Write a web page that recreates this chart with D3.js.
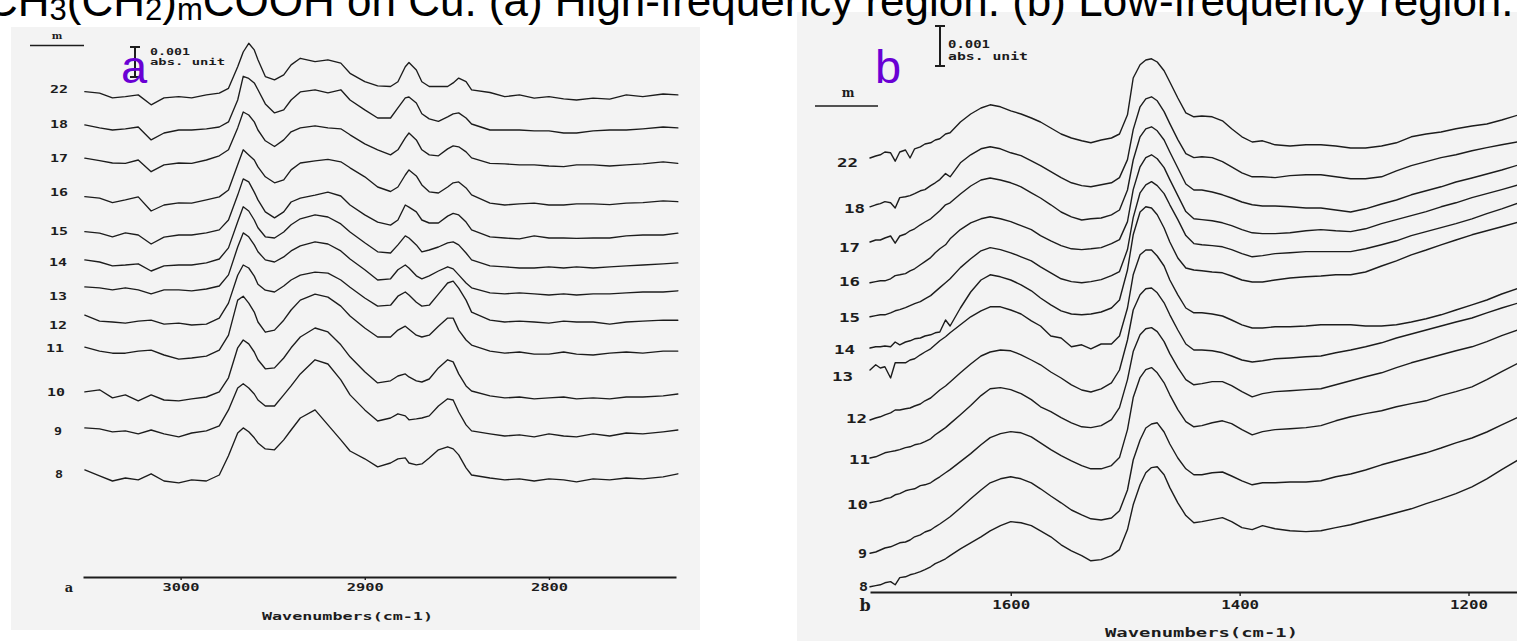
<!DOCTYPE html>
<html>
<head>
<meta charset="utf-8">
<script src="https://cdn.jsdelivr.net/npm/d3@7"></script>
<style>
  html, body { margin: 0; padding: 0; background: #ffffff; }
  svg { display: block; }
</style>
</head>
<body>
<svg id="chart" width="1517" height="641"></svg>
<script>
// ---------------- DATA ----------------
// chain length m of each spectrum, top to bottom
const seriesLabels = ["22", "18", "17", "16", "15", "14", "13", "12", "11", "10", "9", "8"];

// Title pieces: [text, isSubscript]
const titleParts = [["CH", false], ["3", true], ["(CH", false], ["2", true], [")", false], ["m", true],
  ["COOH on Cu. (a) High-frequency region. (b) Low-frequency region.", false]];

// ---- panel (a): high-frequency region ----
const wavenumbersA = [3052, 3044, 3037, 3030, 3023, 3016, 3009, 3001, 2994, 2986, 2979, 2974, 2969, 2966, 2963, 2960, 2958, 2954, 2949, 2944,
  2940, 2935, 2927, 2920, 2913, 2908, 2900, 2893, 2886, 2882, 2878, 2876, 2872, 2869, 2865, 2860, 2855, 2852, 2849, 2845,
  2842, 2832, 2824, 2816, 2808, 2800, 2792, 2785, 2776, 2767, 2758, 2749, 2738, 2730];
// stacking offsets (units of 1e-4 absorbance)
const offsetsA = [161.7, 150.7, 139.7, 126.7, 115, 105.7, 96.7, 87.3, 76.3, 61.7, 49.7, 35.7];
// absorbance relative to each trace's own baseline (units of 1e-4)
const a22 = [0.1,-0.4,-2,-1.6,-1,-4.3,-2,-1.6,-2,-1,-0.4,1.2,8.4,13.3,16.2,14,10.7,5.1,4,5.7,9,11.2,10.1,10.7,9.6,6.2,3.4,2,1.8,3.4,8.4,9.8,7.3,3.4,1.8,1.8,1.8,3,4.6,3.4,0.7,-0.2,-1.6,-1,-2.1,-1.6,-2.3,-2.7,-2.1,-2.4,-1,-1.6,-0.7,-1];
const a18 = [0,-1,-1.7,-1.3,-0.7,-5,-2.7,-1.7,-1.7,-1.3,-0.7,1,8.3,16.2,15.5,14,11.7,7,4,5,8.3,11,11.7,10.7,11.7,8.3,5,2.3,2.3,5.7,9,9.3,7.3,3.7,2,1.2,2.7,3.7,4,2.3,0.3,-1.7,-1.7,-1.7,-2,-2,-2.7,-2.7,-2,-1.7,-1.7,-1.3,-0.7,-1];
const a17 = [-0.1,-0.9,-1.7,-1.8,-0.7,-4.6,-2.3,-1.7,-1.8,-0.7,0.7,2.7,10,15.3,14.3,12,9.3,5.7,3.8,6,8.7,10,10.7,10,9.7,7.7,4.7,2.7,1,2.7,6.7,8.3,6,2.7,1,0.7,3,4,3.7,2,0,-1.8,-2,-2.3,-2.3,-2.7,-2.9,-2.3,-2.3,-2.7,-2.3,-2,-1.3,-1.8];
const a16 = [0.1,-0.4,-1.9,-1,0,-4.7,-2.7,-2,-2.1,-1,0,2.3,10.7,15.7,14,12.3,10,6.7,4.7,5.7,9,11.3,12,12.5,11.7,9.7,6.7,3.3,1.8,3.3,7.3,9,7,4,1.7,1.3,3.3,4.7,5,3,0.7,-2.1,-2.7,-2.3,-2.1,-2.7,-2.7,-2.3,-2.3,-2.6,-2.1,-1.9,-1.3,-1.6];
const a15 = [0.1,-0.4,-1.6,-0.3,-1,-4,-1.7,-1,-1,-0.3,0.7,4,12.3,17.7,16.7,13.3,10.7,6.7,4.7,6.7,10,11.3,12.3,13.3,12,9,5.7,3.3,2.3,4,9,8.3,6.7,4,3,3,5.3,6.2,5.7,3.3,0.7,-1.6,-2,-2.3,-1.3,-2,-2,-2.1,-2,-2,-1.3,-1,-1,-0.4];
const a14 = [0,-0.7,-2,-1.7,-1.3,-3.7,-2,-1.7,-1.7,-1,0.3,4,12.7,17.7,16.3,13.3,10.7,7.7,7.3,9.3,11.7,13.7,15,14.3,12,9.3,5.7,2.7,2.3,5,8,7.3,5,2.7,3.3,4.3,5.7,6,5,2.3,0,-2,-2.3,-2.7,-2.7,-2.3,-2.7,-2.3,-2.7,-2.3,-2,-1.7,-1.3,-1];
const a13 = [0,-0.3,-1,-0.3,-1,-2.3,-1,-1,-1.3,-0.7,0.3,4,13.3,18,16.7,14,11.7,9,8.3,10,12,13.7,15,14.3,12,9.3,5.7,2.3,2.7,5.7,7.3,6.3,3.7,2.7,3.7,5.3,6.7,6,4,1.3,-0.3,-2,-2.3,-2,-2.3,-2.7,-2.3,-2.7,-2.3,-2.3,-2,-1.7,-1.7,-1.3];
const a12 = [0,-2,-2.3,-2.7,-2,-1.7,-3,-2.7,-3.3,-3,-1,4,13.3,16.7,15.7,13,10.3,8.3,7.7,9.7,11.7,13.3,14.3,14,11.7,9.3,5.7,3,3.3,6.3,7.7,6.7,4.3,3,3.3,7,10.7,11.3,9,5,1,-1.7,-2.3,-2,-2.3,-2.7,-2,-2.3,-2.3,-3,-2.3,-2,-1.7,-1.7];
const a11 = [0.3,-1,-1.7,-1.7,-1,-0.7,-2.3,-3.7,-3.3,-2.7,-0.7,4.3,16,17.3,15,12,8.7,5.3,6,9.3,12.7,16,18,17,14,10.7,6.7,3.7,3.7,6,7.3,6.3,4.3,3.7,4.3,7.3,10,10,6,2.7,1,-1,-1.7,-1.3,-2,-2,-1.3,-2,-2.3,-1.7,-1.3,-1.7,-1,-1];
const a10 = [0,0.7,-2,-1,-3,-1,-2.7,-3,-2.3,-1.7,0,4.7,14.7,17.3,16,13.3,10.7,7.7,8,11.3,14.7,18.3,21.3,20,15.7,11.7,6.7,3,3.7,5.3,6,5,3.7,3.3,4.3,8,10.7,10,6,2,0.3,-1.3,-2,-1.7,-2.3,-2,-1.7,-2.3,-2,-2.3,-1.7,-1.7,-1.3,-0.7];
const a9 = [0,-0.3,-1.3,-1,-2,-0.7,-2,-3,-1.7,-1,0.7,6,13.3,14.7,13.3,11.3,9.3,7.3,7.3,11,14,18,22.7,21.3,16,11,6,2.3,3.3,4.7,4,2.7,3,3.3,4,7.3,9.7,9.3,5.3,1,-1,-2,-2.7,-2.3,-3,-2,-2.7,-3,-2,-2.7,-1.7,-2,-1.3,-0.7];
const a8 = [0,-2,-3.7,-2.7,-3.3,-1.3,-3.7,-4.3,-3.3,-3.7,-1.7,4.7,12.3,14,12.7,10.7,9,7,6.7,10,13.3,17.3,20,15,10,6.3,3.7,1,2.3,3.7,4,2.3,1.7,2,4,6.7,7.7,7,5,0.7,-1.7,-2.7,-3.3,-3,-3.7,-3,-3.3,-4,-3,-3.3,-2.7,-3,-2.3,-1.3];
const ticksA = [3000, 2900, 2800];

// ---- panel (b): low-frequency region ----
const wavenumbersB = [1723, 1718, 1714, 1710, 1705, 1701, 1697, 1692, 1688, 1684, 1679, 1675, 1670, 1666, 1662, 1657, 1653,
  1644, 1635, 1626, 1618, 1609, 1600, 1591, 1582, 1574, 1565, 1556,
  1547, 1538, 1530, 1521, 1512, 1505, 1498, 1493, 1487, 1482, 1477, 1472, 1466, 1461, 1454, 1447, 1440, 1433, 1424, 1415,
  1407, 1398, 1389, 1380, 1369, 1356, 1342, 1329, 1316, 1303, 1290, 1276, 1263, 1250, 1237, 1224, 1211, 1197, 1184, 1171, 1156];
const offsetsB = [108.5, 96.3, 87.5, 77.3, 68.8, 61, 55.5, 43, 33.8, 22.3, 10, 1.3];
const b22 = [0,0.5,0.8,1.5,1.3,-0.8,1.5,2,0,2.3,2.8,3.5,3.8,4.5,4.8,6,6.3,9,11,12.5,13.3,12.8,11.8,11,10,9,7.5,6,5,4.3,3.8,4.5,5,6,10.8,20,23.3,24.5,24.8,24,21.8,19,15,11.3,10.3,10.5,10.3,9.3,7.3,5.3,4,4.3,3.3,3,3.3,3.3,3,2.5,2.5,3,3.8,5.3,6,6.5,7.3,8,8.5,9.5,10.8];
const b18 = [0,0.5,0.8,1.3,1,-0.3,2.3,2.5,2.8,3.3,4,4.3,5.3,6,6.8,8.3,7.5,11,13,14.5,15,14.5,13.5,12.8,11.5,10.3,8.8,7.3,6,5.3,5,5.5,6,7.3,11.8,19.3,25,27,27.5,26.5,23.8,20.8,16.8,13.3,12.3,12.5,12.3,11.3,10,8.5,7.5,7.5,7.3,7.8,8,8,7.5,7,7,7.5,9,10.3,11.3,12.3,13,14,14.8,15.5,16.3];
const b17 = [0,0.5,0.5,1,1.5,-0.3,1.5,2,2.8,3.3,4.3,5,5.8,6.8,7.8,9.3,9.8,12,14,15.5,16,15.5,14.8,13.8,12.3,11,9.3,7.5,6.3,5.5,5.8,6,6.8,8,13,20.5,26.3,28.3,28.8,27.8,25.5,22.5,18.5,14.5,13,13,12.5,11.8,11,10,9.3,9,9,8.8,8.5,8.5,8,7.5,8.3,9.5,10.5,11.8,12.8,13.8,15,16,17,18,19.3];
const b16 = [0,0.3,0.5,0.5,1,1.8,2,2.3,3,3.5,4.5,5.3,6.3,7.5,8.5,9.5,11,13.3,15,16,16.5,16,15.3,14.3,13.3,11.8,10.5,9.3,8.5,8.3,8.5,8.8,9.8,10.8,15.3,23.3,29,31.3,32,31,28.8,25.8,21.8,17.8,16,15.8,15.5,15,14.3,13.3,12.5,12.3,12.3,12.5,13,13.3,13,12.8,13.5,14.8,15.8,16.8,17.8,19,20,21.3,22.3,23.3,24.5];
const b15 = [0,0.3,0.5,0.5,1,1.5,1.8,2.3,2.8,3.3,3.8,4.5,5.3,6.3,7.3,8.5,9.5,12.3,14.5,16.5,17.3,16.8,16,15,14,12.5,11,9.5,8.8,8.5,8.8,9.3,10.3,11.3,16.8,24.8,31,33,33.8,32.8,30.8,28,24.3,20.3,18.3,18,17.8,17.5,16.8,15.8,15,15.3,15.8,16,16.3,16.3,16.3,16.3,17,18,19,20.3,21.3,22.3,23.3,24.5,25.8,27,28.5];
const b14 = [0,0.3,0.3,0.5,0.3,1.5,0.8,1.5,1.8,2.3,2.5,3,3.3,3.8,4,7,5.5,10,14,17,18.3,17.8,17,15.8,14.3,12.5,10.8,9.3,8.5,8.3,8.5,9,10,12,19.5,28.3,34,35.3,35,33.3,30,26.5,22.5,20,19.5,19.3,19,18.8,18,17,16.5,16.5,17,17.5,17.8,18,18.3,18.3,19,20.5,21.8,23.3,24.5,25.8,27,28.3,29.3,30.3,31.5];
const b13 = [0,1.3,0.5,0.8,-2,1.8,1.8,1.8,2.5,2.8,3.8,4.5,5.3,6.3,7.3,8.3,9.3,11.3,13.3,14.8,15.8,15.8,15,14,12.3,11,8.5,8,5.8,6.3,5.3,6.5,6.5,8.5,15.5,23.8,28.8,30,30,28.5,26,22.5,18.8,15.5,14.3,14.3,14,13.5,12.5,11.3,10.5,10.5,10.8,10.8,11,11.3,11.3,11.3,11,11,11.3,12,12.8,13.8,15,16.3,17.5,19,20.5];
const b12 = [0,0.5,0.8,1.3,1.8,2.5,2.5,2.8,3,3.5,4,4.8,5.5,6.5,7.5,8.5,9.5,11.8,14,16,17,17.5,17.3,16.3,15,13.8,12,10.5,8.8,7.5,7,7.8,9.3,12.5,20,27.5,31.3,32.8,33,31.8,29.3,26.3,22.5,19,17.5,17.5,17.3,16.8,16,15,14.5,14.8,15.3,15.5,15.8,16,16.8,17.5,18.3,19.3,20.5,21.5,22.5,23.5,24.5,25.5,26.8,28,29.3];
const b11 = [-0.3,0,0.5,1,1.3,1.5,1.8,2.3,2.5,3,3.3,3.8,4.5,5.5,6.3,7.3,8.3,10.5,12.8,15.3,17,17.3,16.8,15.8,14.3,12.5,11.3,9.8,8.5,7.5,7.3,7.8,9.3,12.3,19.3,26.3,30.5,32,32.3,31.3,28.8,25.8,22.3,19.3,18,18.3,18.8,18.8,17.8,16.3,15,15.8,16.3,16.5,16.8,17,18,19,20,21,22.3,23.5,24.5,25.5,26.5,27.5,28.8,30.3,31.8];
const b10 = [0,0.3,0.5,1,1.3,2,2.3,3,3.3,3.5,4.3,4.5,5,5.8,6.5,7.5,8.3,10.3,12.3,14.5,16.3,17.3,17.8,17.5,16.5,15,13.3,11.8,10.5,9.3,8.5,8.5,9.3,11.3,18.3,26.3,31.3,33.3,33.8,32.5,30,27,23.3,20.3,19,19.3,20,20.5,19.8,18.3,17,17.8,18.3,18.5,18.8,19.3,20.5,21.5,22.3,23,24,24.8,25.5,26.8,27.8,29,30.8,32.8,35];
const b9 = [-0.3,0,0.5,1,1.3,1.8,2.3,2.5,3,3.8,4.3,5,5.5,6.3,7,8,8.8,11,13.3,15.5,17.3,18.3,18.8,18.3,17.3,15.8,14,12.3,10.5,9.3,8.3,8,8.5,10.3,15.5,23,28,31,32,32.3,30,27,23.5,20.8,19.3,19.3,19.8,20,19,17.8,16.8,17.3,17.3,17.5,17.5,17.8,18.8,19.5,20.5,21.8,22.8,23.8,24.8,26,27.3,28.5,30,31.8,33.8];
const b8 = [0,0.3,0.5,1,1.3,0.5,2.3,2.5,3,3.3,3.8,4.3,5,5.8,6.3,7,7.8,9.5,11,12.5,14,15.3,16.3,16,15.3,14,12.5,10.5,9,7.8,6.5,6.8,7.8,9.3,14.3,20.5,25.5,28.5,29.8,30,28,24.8,21,17.8,16,16.3,16.8,17.3,16.3,14.8,14.3,15.3,14.5,14,13.8,14,14.8,15.5,16.5,17.5,18.5,19.5,20.8,22,23.3,25,27,29.3,31.8];
const ticksB = [1600, 1400, 1200];

const scaleBarValue = 10;   // 0.001 abs = 10 units of 1e-4
const axisTitle = "Wavenumbers(cm-1)";

// ---------------- DRAWING ----------------
const svg = d3.select("#chart");
const INK = "#1c1c1c";
const PANEL_BG = "#f3f3f3";
const PURPLE = "#6a00d4";
const MONO = "'DejaVu Sans Mono', 'Liberation Mono', monospace";
const SANS = "'Liberation Sans', Arial, Helvetica, sans-serif";

function drawPanel(p) {
  const g = svg.append("g");
  g.append("rect").attr("x", p.box[0]).attr("y", p.box[1])
    .attr("width", p.box[2]).attr("height", p.box[3]).attr("fill", PANEL_BG);

  const line = d3.line().x(d => p.x(d[0])).y(d => p.y(d[1])).curve(d3.curveLinear);
  p.spectra.forEach((vals, i) => {
    const pts = p.wn.map((w, k) => [w, p.offsets[i] + vals[k]]);
    g.append("path").attr("d", line(pts))
      .attr("fill", "none").attr("stroke", INK).attr("stroke-width", p.lw)
      .attr("stroke-linejoin", "round").attr("stroke-linecap", "round");
    const lab = seriesLabels[i];
    g.append("text")
      .attr("x", p.labelX[i]).attr("y", p.y(p.offsets[i]) + p.labelDy[i])
      .attr("text-anchor", "end").attr("dominant-baseline", "central")
      .attr("textLength", lab.length > 1 ? p.labelW2 : p.labelW1).attr("lengthAdjust", "spacingAndGlyphs")
      .style("font-family", MONO).style("font-weight", "bold").style("font-size", p.labelFont + "px")
      .attr("fill", INK).text(lab);
  });

  // x axis
  const axis = d3.axisBottom(p.x).tickValues(p.ticks).tickSize(p.tickSize)
    .tickSizeOuter(0).tickPadding(p.tickPad).tickFormat(d3.format("d"));
  const ag = g.append("g").attr("transform", `translate(0,${p.axisY})`).call(axis);
  ag.select(".domain").attr("stroke", INK).attr("stroke-width", 2);
  ag.selectAll(".tick line").attr("stroke", INK).attr("stroke-width", 1.4);
  ag.selectAll(".tick text").attr("fill", INK)
    .attr("textLength", p.tickTextW).attr("lengthAdjust", "spacingAndGlyphs")
    .style("font-family", MONO).style("font-weight", "bold").style("font-size", p.tickFont + "px");

  // axis title
  g.append("text").attr("x", p.axisTitlePos[0]).attr("y", p.axisTitlePos[1])
    .attr("dominant-baseline", "central")
    .attr("textLength", p.axisTitleW).attr("lengthAdjust", "spacingAndGlyphs")
    .style("font-family", MONO).style("font-weight", "bold").style("font-size", p.tickFont + "px")
    .attr("fill", INK).text(axisTitle);

  // small panel letter at the axis start
  g.append("text").attr("x", p.smallLetterPos[0]).attr("y", p.smallLetterPos[1])
    .attr("text-anchor", "middle").attr("dominant-baseline", "central")
    .style("font-family", "'DejaVu Serif', serif").style("font-weight", "bold")
    .style("font-size", p.smallLetterFont + "px").attr("fill", INK).text(p.letter);

  // "m" header with rule
  g.append("text").attr("x", p.mPos[0]).attr("y", p.mPos[1])
    .attr("text-anchor", "middle").attr("dominant-baseline", "central")
    .style("font-family", "'DejaVu Serif', serif").style("font-weight", "bold")
    .style("font-size", p.mFont + "px").attr("fill", INK).text("m");
  g.append("line").attr("x1", p.mRule[0]).attr("x2", p.mRule[1])
    .attr("y1", p.mRule[2]).attr("y2", p.mRule[2]).attr("stroke", INK).attr("stroke-width", 1.6);

  // scale bar: 0.001 abs. unit
  const barLen = Math.abs(p.y(0) - p.y(scaleBarValue));
  const bx = p.barPos[0], by = p.barPos[1];
  g.append("line").attr("x1", bx).attr("x2", bx).attr("y1", by).attr("y2", by + barLen)
    .attr("stroke", INK).attr("stroke-width", 2);
  [by, by + barLen].forEach(yy => g.append("line").attr("x1", bx - 5).attr("x2", bx + 5)
    .attr("y1", yy).attr("y2", yy).attr("stroke", INK).attr("stroke-width", 2));
  g.append("text").attr("x", p.barText[0]).attr("y", p.barText[1])
    .attr("textLength", p.barTextW[0]).attr("lengthAdjust", "spacingAndGlyphs")
    .style("font-family", MONO).style("font-weight", "bold").style("font-size", p.barFont + "px")
    .attr("fill", INK).text("0.001");
  g.append("text").attr("x", p.barText[0]).attr("y", p.barText[2])
    .attr("textLength", p.barTextW[1]).attr("lengthAdjust", "spacingAndGlyphs")
    .style("font-family", MONO).style("font-weight", "bold").style("font-size", p.barFont + "px")
    .attr("fill", INK).text("abs. unit");

  // big purple panel letter
  g.append("text").attr("x", p.bigLetterPos[0]).attr("y", p.bigLetterPos[1])
    .style("font-family", SANS).style("font-size", "47px").attr("fill", PURPLE).text(p.letter);
}

drawPanel({
  letter: "a",
  box: [11, 27, 689, 603],
  x: d3.scaleLinear().domain([3053, 2731]).range([83, 676]),
  y: d3.scaleLinear().domain([0, 180]).range([577, 37]),
  wn: wavenumbersA,
  spectra: [a22, a18, a17, a16, a15, a14, a13, a12, a11, a10, a9, a8],
  offsets: offsetsA,
  lw: 1.35,
  labelX: [68, 68, 68, 68, 68, 67, 67, 67, 64, 65, 62, 63],
  labelDy: [-2, 0, 1, -4, -1, 3, 10, 10, 0, 1, 4, 5],
  labelFont: 11, labelW2: 18, labelW1: 8,
  ticks: ticksA, axisY: 577, tickSize: 3, tickPad: 4, tickFont: 10, tickTextW: 37,
  axisTitlePos: [262, 616], axisTitleW: 171,
  smallLetterPos: [69, 587], smallLetterFont: 13,
  mPos: [57, 35], mFont: 10, mRule: [30, 84, 45.5],
  barPos: [135, 47], barText: [150, 55, 65], barTextW: [40, 75], barFont: 9,
  bigLetterPos: [121, 83]
});

drawPanel({
  letter: "b",
  box: [797, 12, 720, 629],
  x: d3.scaleLinear().domain([1723, 1155]).range([870, 1520]),
  y: d3.scaleLinear().domain([0, 145]).range([592, 12]),
  wn: wavenumbersB,
  spectra: [b22, b18, b17, b16, b15, b14, b13, b12, b11, b10, b9, b8],
  offsets: offsetsB,
  lw: 1.4,
  labelX: [858, 865, 860, 860, 860, 855, 853, 867, 870, 868, 867, 868],
  labelDy: [4, 2, 5, -1, 1, 1, 6, -2, 3, 2, 1, 0],
  labelFont: 13, labelW2: 21, labelW1: 9,
  ticks: ticksB, axisY: 592, tickSize: 4, tickPad: 4, tickFont: 12, tickTextW: 38,
  axisTitlePos: [1105, 633], axisTitleW: 193,
  smallLetterPos: [865, 605], smallLetterFont: 16,
  mPos: [848, 93], mFont: 12, mRule: [815, 878, 106],
  barPos: [940, 26], barText: [948, 48, 60], barTextW: [42, 80], barFont: 10,
  bigLetterPos: [875, 83]
});

// Title drawn last (its top is cropped by the picture edge, as in the reference)
const title = svg.append("text")
  .attr("x", -14).attr("y", 16)
  .style("font-family", SANS).style("font-size", "44px").attr("fill", "#000");
titleParts.forEach(([t, sub], i) => {
  const prevSub = i > 0 && titleParts[i - 1][1];
  title.append("tspan")
    .attr("dy", sub ? 4 : (prevSub ? -4 : 0))
    .style("font-size", sub ? "31px" : "44px")
    .text(t);
});
</script>
</body>
</html>
